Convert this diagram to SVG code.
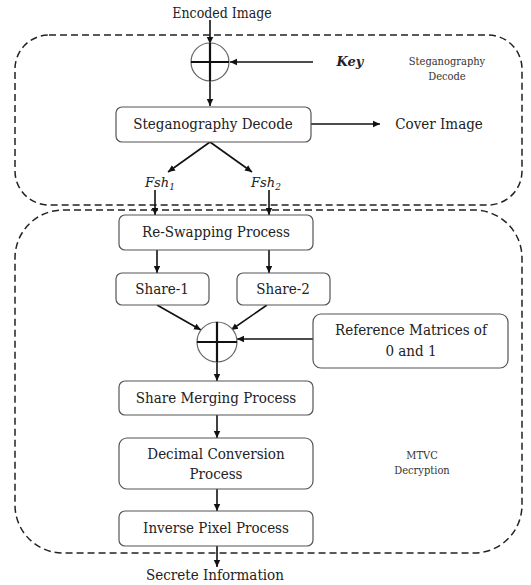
<svg xmlns="http://www.w3.org/2000/svg" width="531" height="585" viewBox="0 0 531 585">
  <style>
    .frame { fill: none; stroke: #222; stroke-width: 1.5; stroke-dasharray: 7 4; }
    .box { fill: #fff; stroke: #555; stroke-width: 1.2; }
    .lbl { font-family: 'DejaVu Serif Condensed', 'DejaVu Serif', serif; font-size: 15px; fill: #222; text-anchor: middle; }
    .small { font-family: 'DejaVu Serif Condensed', 'DejaVu Serif', serif; font-size: 11px; fill: #333; text-anchor: middle; }
    .script { font-family: 'DejaVu Serif', serif; font-style: italic; font-size: 13px; fill: #222; text-anchor: middle; }
    .wire { fill: none; stroke: #111; stroke-width: 1.6; }
    .xor { fill: #fff; stroke: #666; stroke-width: 1.2; }
    .plus { stroke: #111; stroke-width: 2.2; }
  </style>
  <defs>
    <marker id="arrow" markerWidth="8" markerHeight="8" refX="7" refY="4" orient="auto" markerUnits="userSpaceOnUse">
      <path d="M0,0.8 L7,4 L0,7.2 Z" fill="#111"/>
    </marker>
  </defs>
  <rect width="531" height="585" fill="#fff"/>

  <!-- stage frames -->
  <g id="frame-stego">
    <rect class="frame" x="15" y="35" width="507" height="170" rx="34"/>
    <text class="small" x="447" y="65">Steganography</text>
    <text class="small" x="447" y="80">Decode</text>
  </g>
  <g id="frame-mtvc">
    <rect class="frame" x="15" y="210" width="507" height="343" rx="48"/>
    <text class="small" x="422" y="459">MTVC</text>
    <text class="small" x="422" y="474">Decryption</text>
  </g>

  <!-- connectors -->
  <g id="connectors">
    <line class="wire" x1="210" y1="20" x2="210" y2="44" marker-end="url(#arrow)"/>
    <line class="wire" x1="210" y1="44" x2="210" y2="106" marker-end="url(#arrow)"/>
    <line class="wire" x1="313" y1="62" x2="230" y2="62" marker-end="url(#arrow)"/>
    <line class="wire" x1="311" y1="124" x2="380" y2="124" marker-end="url(#arrow)"/>
    <line class="wire" x1="210" y1="142" x2="168" y2="172" marker-end="url(#arrow)"/>
    <line class="wire" x1="210" y1="142" x2="252" y2="172" marker-end="url(#arrow)"/>
    <line class="wire" x1="155" y1="190" x2="155" y2="215" marker-end="url(#arrow)"/>
    <line class="wire" x1="269" y1="190" x2="269" y2="215" marker-end="url(#arrow)"/>
    <line class="wire" x1="157" y1="250" x2="157" y2="273" marker-end="url(#arrow)"/>
    <line class="wire" x1="269" y1="250" x2="269" y2="273" marker-end="url(#arrow)"/>
    <line class="wire" x1="157" y1="305" x2="201" y2="330" marker-end="url(#arrow)"/>
    <line class="wire" x1="267" y1="305" x2="231" y2="330" marker-end="url(#arrow)"/>
    <line class="wire" x1="313" y1="339" x2="237" y2="339" marker-end="url(#arrow)"/>
    <line class="wire" x1="217" y1="342" x2="217" y2="381" marker-end="url(#arrow)"/>
    <line class="wire" x1="217" y1="415" x2="217" y2="438" marker-end="url(#arrow)"/>
    <line class="wire" x1="217" y1="489" x2="217" y2="511" marker-end="url(#arrow)"/>
    <line class="wire" x1="217" y1="546" x2="217" y2="567" marker-end="url(#arrow)"/>
  </g>

  <!-- nodes -->
  <g id="encoded-image">
    <text class="lbl" x="222" y="18" style="font-size:14px">Encoded Image</text>
  </g>
  <g id="xor-key">
    <circle class="xor" cx="210" cy="62" r="19"/>
    <line class="plus" x1="191" y1="62" x2="229" y2="62"/>
    <line class="plus" x1="210" y1="43" x2="210" y2="81"/>
  </g>
  <g id="key">
    <text class="script" x="350" y="66" style="font-weight:bold">Key</text>
  </g>
  <g id="stego-decode">
    <rect class="box" x="116" y="107" width="195" height="35" rx="6"/>
    <text class="lbl" x="213" y="129">Steganography Decode</text>
  </g>
  <g id="cover-image">
    <text class="lbl" x="439" y="129">Cover Image</text>
  </g>
  <g id="fsh1">
    <text class="script" x="160" y="187">Fsh<tspan font-size="9" dy="3">1</tspan></text>
  </g>
  <g id="fsh2">
    <text class="script" x="266" y="187">Fsh<tspan font-size="9" dy="3">2</tspan></text>
  </g>
  <g id="re-swapping">
    <rect class="box" x="119" y="215" width="194" height="35" rx="6"/>
    <text class="lbl" x="216" y="237">Re-Swapping Process</text>
  </g>
  <g id="share-1">
    <rect class="box" x="116" y="273" width="93" height="32" rx="6"/>
    <text class="lbl" x="162" y="294">Share-1</text>
  </g>
  <g id="share-2">
    <rect class="box" x="237" y="273" width="93" height="32" rx="6"/>
    <text class="lbl" x="283" y="294">Share-2</text>
  </g>
  <g id="xor-merge">
    <circle class="xor" cx="217" cy="342" r="20"/>
    <line class="plus" x1="197" y1="342" x2="237" y2="342"/>
    <line class="plus" x1="217" y1="322" x2="217" y2="362"/>
  </g>
  <g id="reference-matrices">
    <rect class="box" x="313" y="314" width="195" height="54" rx="8"/>
    <text class="lbl" x="411" y="335">Reference Matrices of</text>
    <text class="lbl" x="411" y="356">0 and 1</text>
  </g>
  <g id="share-merging">
    <rect class="box" x="119" y="381" width="194" height="34" rx="6"/>
    <text class="lbl" x="216" y="403">Share Merging Process</text>
  </g>
  <g id="decimal-conversion">
    <rect class="box" x="119" y="438" width="194" height="51" rx="8"/>
    <text class="lbl" x="216" y="459">Decimal Conversion</text>
    <text class="lbl" x="216" y="479">Process</text>
  </g>
  <g id="inverse-pixel">
    <rect class="box" x="119" y="511" width="194" height="35" rx="6"/>
    <text class="lbl" x="216" y="533">Inverse Pixel Process</text>
  </g>
  <g id="secrete-information">
    <text class="lbl" x="215" y="580">Secrete Information</text>
  </g>
</svg>
